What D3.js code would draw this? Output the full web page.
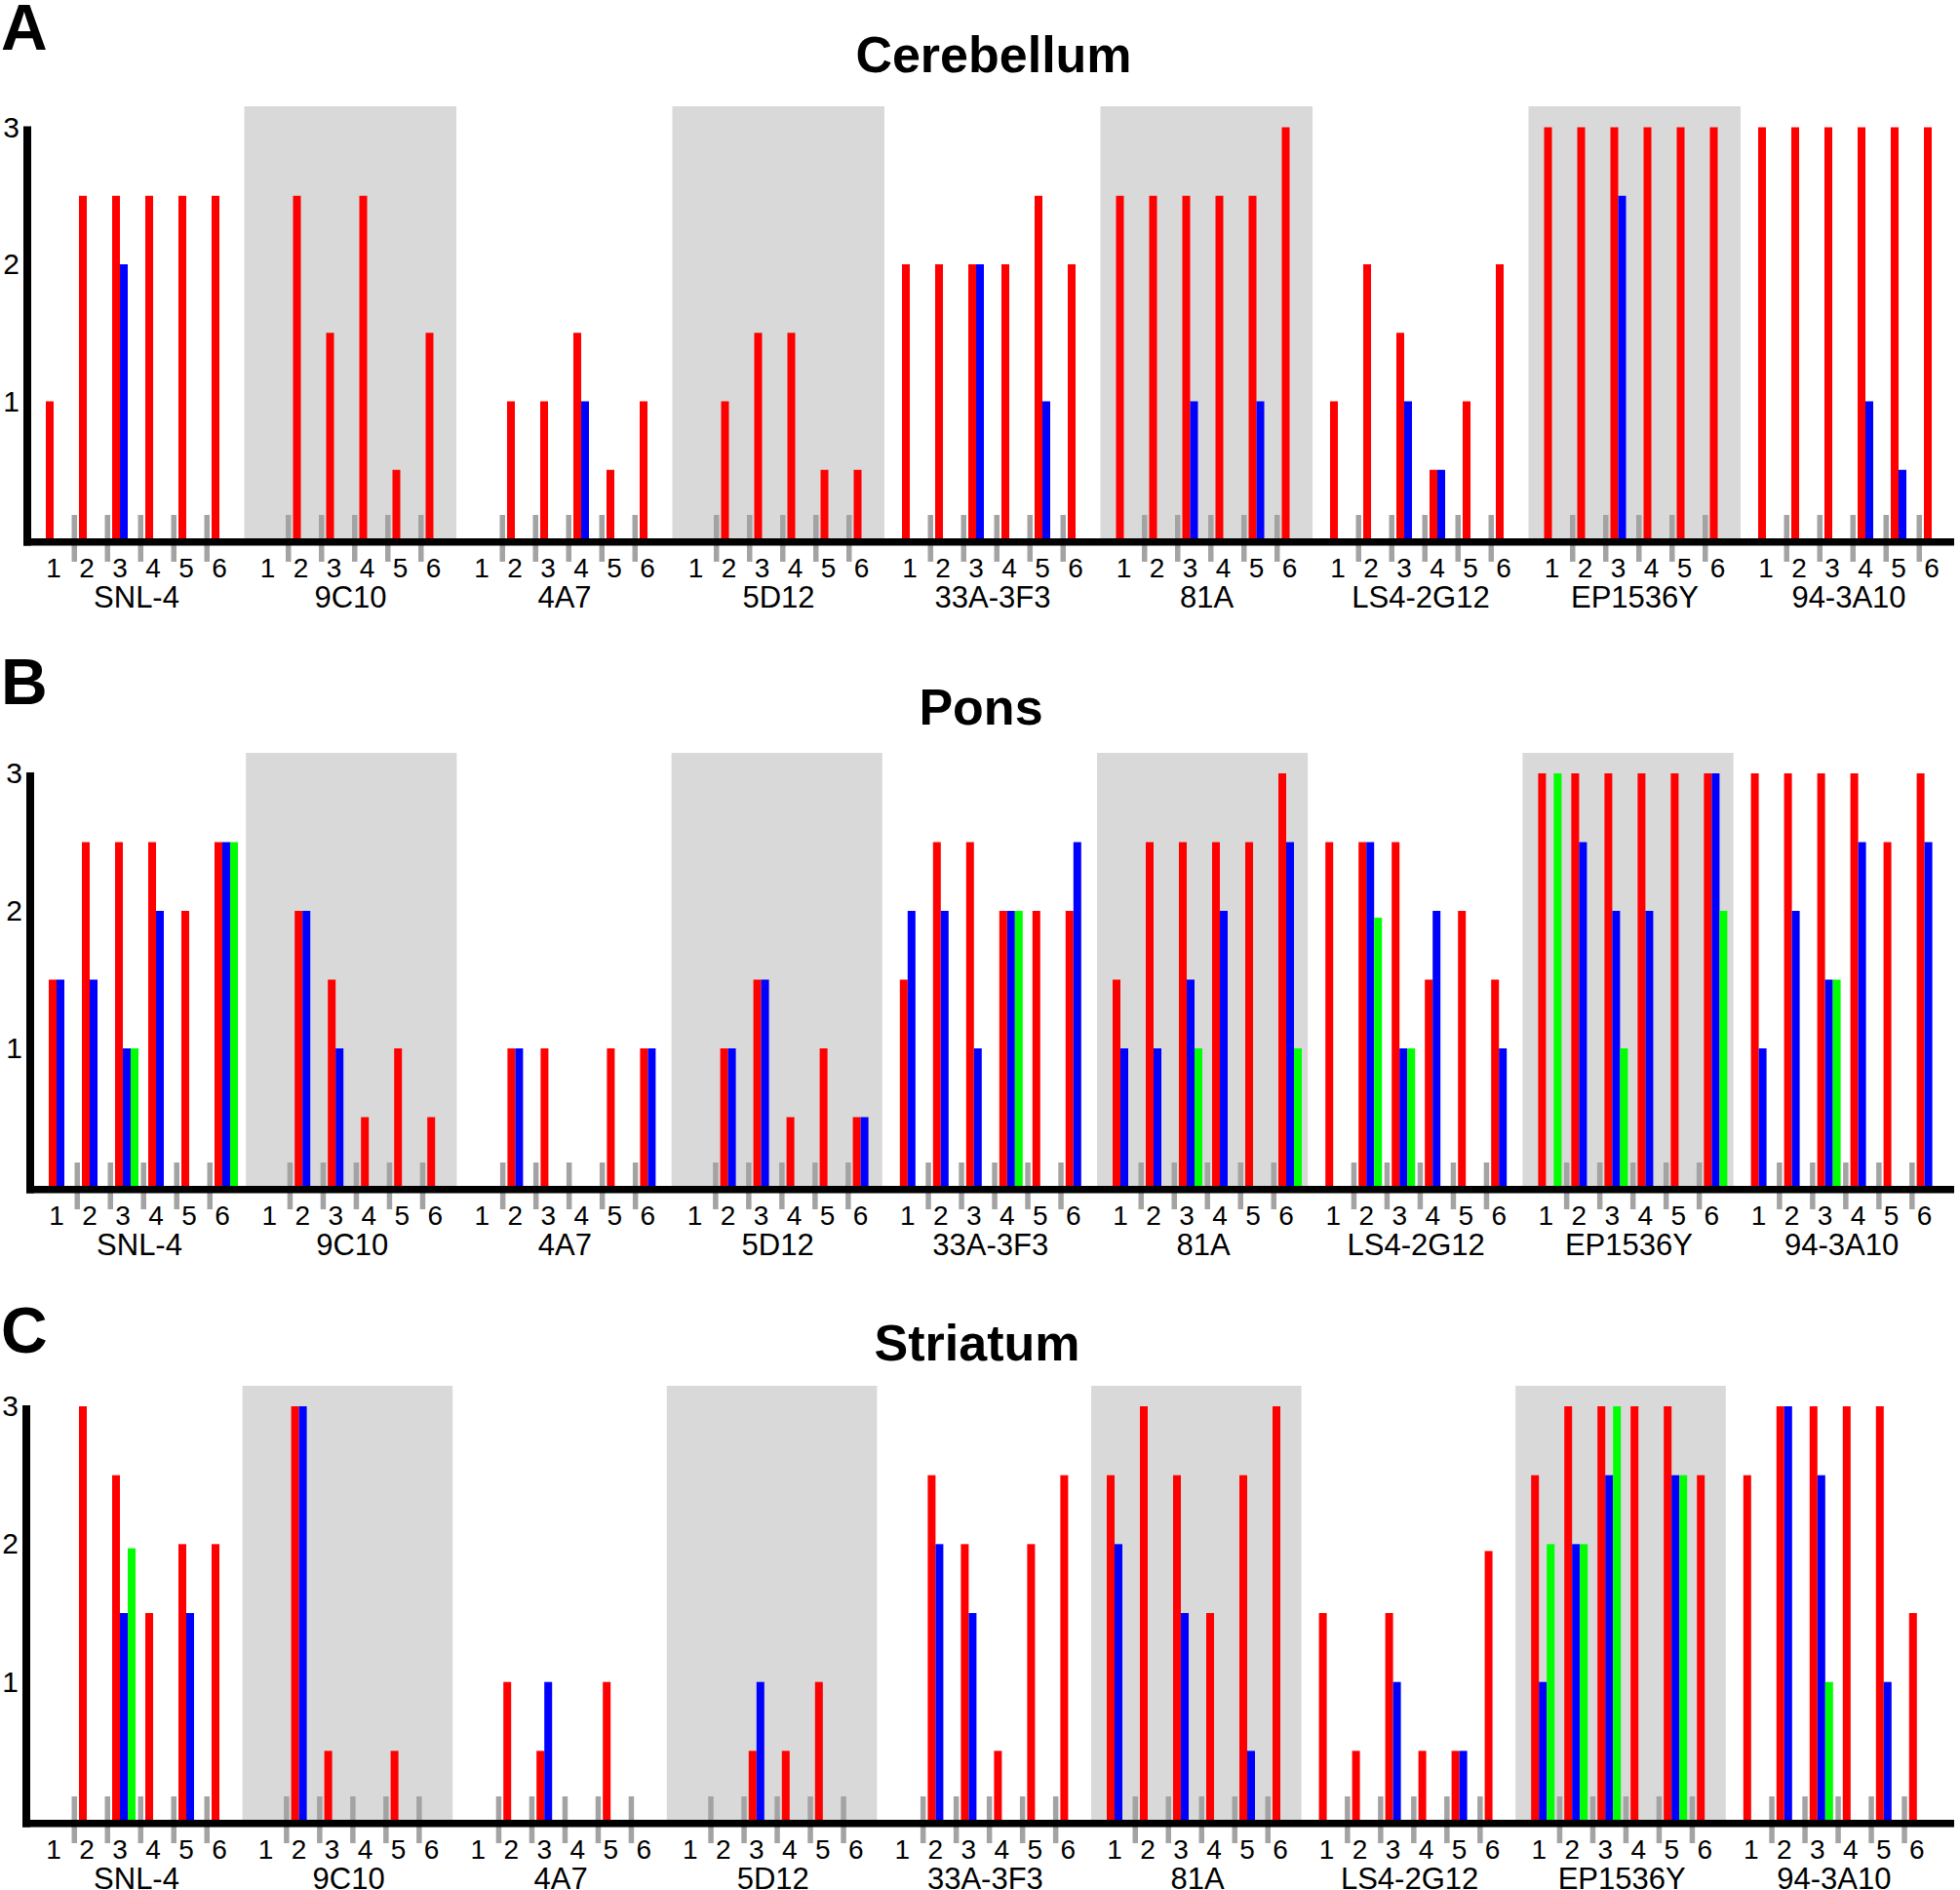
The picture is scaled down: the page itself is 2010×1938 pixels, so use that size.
<!DOCTYPE html>
<html>
<head>
<meta charset="utf-8">
<script src="https://cdn.jsdelivr.net/npm/d3@7"></script>
<style>
  html, body { margin: 0; padding: 0; background: #fff; }
  svg { display: block; }
  text { font-family: "Liberation Sans", Arial, Helvetica, sans-serif; fill: #000; }
</style>
</head>
<body>
<svg id="chart" width="2010" height="1938"></svg>
<script>
// ---------------- DATA ----------------
const groups = ["SNL-4", "9C10", "4A7", "5D12", "33A-3F3", "81A", "LS4-2G12", "EP1536Y", "94-3A10"];
const samples = ["1", "2", "3", "4", "5", "6"];
const series = ["red", "blue", "green"];
const yTicks = [1, 2, 3];
const shadedGroups = ["9C10", "5D12", "81A", "EP1536Y"];

// Cerebellum (panel A): one row per group, one value per sample
const cerebellumRed = [
  [1, 2.5, 2.5, 2.5, 2.5, 2.5],
  [0, 2.5, 1.5, 2.5, 0.5, 1.5],
  [0, 1, 1, 1.5, 0.5, 1],
  [0, 1, 1.5, 1.5, 0.5, 0.5],
  [2, 2, 2, 2, 2.5, 2],
  [2.5, 2.5, 2.5, 2.5, 2.5, 3],
  [1, 2, 1.5, 0.5, 1, 2],
  [3, 3, 3, 3, 3, 3],
  [3, 3, 3, 3, 3, 3]
];
const cerebellumBlue = [
  [0, 0, 2, 0, 0, 0],
  [0, 0, 0, 0, 0, 0],
  [0, 0, 0, 1, 0, 0],
  [0, 0, 0, 0, 0, 0],
  [0, 0, 2, 0, 1, 0],
  [0, 0, 1, 0, 1, 0],
  [0, 0, 1, 0.5, 0, 0],
  [0, 0, 2.5, 0, 0, 0],
  [0, 0, 0, 1, 0.5, 0]
];
const cerebellumGreen = [
  [0, 0, 0, 0, 0, 0],
  [0, 0, 0, 0, 0, 0],
  [0, 0, 0, 0, 0, 0],
  [0, 0, 0, 0, 0, 0],
  [0, 0, 0, 0, 0, 0],
  [0, 0, 0, 0, 0, 0],
  [0, 0, 0, 0, 0, 0],
  [0, 0, 0, 0, 0, 0],
  [0, 0, 0, 0, 0, 0]
];

// Pons (panel B)
const ponsRed = [
  [1.5, 2.5, 2.5, 2.5, 2, 2.5],
  [0, 2, 1.5, 0.5, 1, 0.5],
  [0, 1, 1, 0, 1, 1],
  [0, 1, 1.5, 0.5, 1, 0.5],
  [1.5, 2.5, 2.5, 2, 2, 2],
  [1.5, 2.5, 2.5, 2.5, 2.5, 3],
  [2.5, 2.5, 2.5, 1.5, 2, 1.5],
  [3, 3, 3, 3, 3, 3],
  [3, 3, 3, 3, 2.5, 3]
];
const ponsBlue = [
  [1.5, 1.5, 1, 2, 0, 2.5],
  [0, 2, 1, 0, 0, 0],
  [0, 1, 0, 0, 0, 1],
  [0, 1, 1.5, 0, 0, 0.5],
  [2, 2, 1, 2, 0, 2.5],
  [1, 1, 1.5, 2, 0, 2.5],
  [0, 2.5, 1, 2, 0, 1],
  [0, 2.5, 2, 2, 0, 3],
  [1, 2, 1.5, 2.5, 0, 2.5]
];
const ponsGreen = [
  [0, 0, 1, 0, 0, 2.5],
  [0, 0, 0, 0, 0, 0],
  [0, 0, 0, 0, 0, 0],
  [0, 0, 0, 0, 0, 0],
  [0, 0, 0, 2, 0, 0],
  [0, 0, 1, 0, 0, 1],
  [0, 1.95, 1, 0, 0, 0],
  [3, 0, 1, 0, 0, 2],
  [0, 0, 1.5, 0, 0, 0]
];

// Striatum (panel C)
const striatumRed = [
  [0, 3, 2.5, 1.5, 2, 2],
  [0, 3, 0.5, 0, 0.5, 0],
  [0, 1, 0.5, 0, 1, 0],
  [0, 0, 0.5, 0.5, 1, 0],
  [0, 2.5, 2, 0.5, 2, 2.5],
  [2.5, 3, 2.5, 1.5, 2.5, 3],
  [1.5, 0.5, 1.5, 0.5, 0.5, 1.95],
  [2.5, 3, 3, 3, 3, 2.5],
  [2.5, 3, 3, 3, 3, 1.5]
];
const striatumBlue = [
  [0, 0, 1.5, 0, 1.5, 0],
  [0, 3, 0, 0, 0, 0],
  [0, 0, 1, 0, 0, 0],
  [0, 0, 1, 0, 0, 0],
  [0, 2, 1.5, 0, 0, 0],
  [2, 0, 1.5, 0, 0.5, 0],
  [0, 0, 1, 0, 0.5, 0],
  [1, 2, 2.5, 0, 2.5, 0],
  [0, 3, 2.5, 0, 1, 0]
];
const striatumGreen = [
  [0, 0, 1.97, 0, 0, 0],
  [0, 0, 0, 0, 0, 0],
  [0, 0, 0, 0, 0, 0],
  [0, 0, 0, 0, 0, 0],
  [0, 0, 0, 0, 0, 0],
  [0, 0, 0, 0, 0, 0],
  [0, 0, 0, 0, 0, 0],
  [2, 2, 3, 0, 2.5, 0],
  [0, 0, 1, 0, 0, 0]
];

const panelTitles = ["Cerebellum", "Pons", "Striatum"];
const panelLetters = ["A", "B", "C"];

// ---------------- LAYOUT ----------------
const colors = { red: "#ff0000", blue: "#0000ff", green: "#00ff00" };
const panels = [
  { title: panelTitles[0], letter: panelLetters[0], red: cerebellumRed, blue: cerebellumBlue, green: cerebellumGreen,
    y0: 552, y3: 130.5, bgTop: 109, bandStart: 30, bandW: 219.5, axisX: 28, titleX: 1019, titleY: 74, letterY: 51 },
  { title: panelTitles[1], letter: panelLetters[1], red: ponsRed, blue: ponsBlue, green: ponsGreen,
    y0: 1216, y3: 793, bgTop: 772, bandStart: 33, bandW: 218.2, axisX: 31, titleX: 1006, titleY: 743, letterY: 722 },
  { title: panelTitles[2], letter: panelLetters[2], red: striatumRed, blue: striatumBlue, green: striatumGreen,
    y0: 1866, y3: 1442, bgTop: 1421, bandStart: 30, bandW: 217.6, axisX: 27, titleX: 1002, titleY: 1395, letterY: 1387 }
];

const svg = d3.select("#chart");
const xEnd = 2004;
const samplePitch = 34;
const sampleOffset = 17;
const barW = 8;

panels.forEach(p => {
  const g = svg.append("g");
  const x = d3.scaleBand().domain(groups).range([p.bandStart, p.bandStart + p.bandW * groups.length]).padding(0);
  const xs = d3.scaleBand().domain(samples).range([sampleOffset, sampleOffset + samplePitch * samples.length]).padding(0);
  const xc = d3.scaleBand().domain(series).range([0, barW * series.length]).padding(0);
  const y = d3.scaleLinear().domain([0, 3]).range([p.y0, p.y3]);

  // shaded backgrounds
  g.selectAll("rect.bg").data(shadedGroups).join("rect")
    .attr("class", "bg")
    .attr("x", d => x(d) + 1)
    .attr("y", p.bgTop)
    .attr("width", x.bandwidth() - 2)
    .attr("height", p.y0 - p.bgTop)
    .attr("fill", "#d9d9d9");

  // bars
  const barData = [];
  groups.forEach((grp, gi) => {
    samples.forEach((s, si) => {
      series.forEach(ser => {
        const v = p[ser][gi][si];
        if (v > 0) barData.push({ grp, s, ser, v });
      });
    });
  });
  g.selectAll("rect.bar").data(barData).join("rect")
    .attr("class", "bar")
    .attr("x", d => x(d.grp) + xs(d.s) + xc(d.ser))
    .attr("y", d => y(d.v))
    .attr("width", xc.bandwidth())
    .attr("height", d => y(0) - y(d.v))
    .attr("fill", d => colors[d.ser]);

  // gray separator ticks between samples
  const sepData = [];
  groups.forEach(grp => samples.slice(0, -1).forEach(s => sepData.push({ grp, s })));
  g.selectAll("rect.sep").data(sepData).join("rect")
    .attr("class", "sep")
    .attr("x", d => x(d.grp) + xs(d.s) + 26.5)
    .attr("y", p.y0 - 24)
    .attr("width", 5.5)
    .attr("height", 48)
    .attr("fill", "#a3a3a3");

  // axes lines
  g.append("rect").attr("x", p.axisX - 4).attr("y", p.y0).attr("width", xEnd - p.axisX + 4).attr("height", 7.5).attr("fill", "#000");
  g.append("rect").attr("x", p.axisX - 4).attr("y", p.y3 - 1).attr("width", 8).attr("height", p.y0 - p.y3 + 8.5).attr("fill", "#000");

  // y tick labels via d3 axis
  const yAxis = d3.axisLeft(y).tickValues(yTicks).tickSize(0).tickPadding(0).tickFormat(d3.format("d"));
  const ya = g.append("g").attr("transform", `translate(${p.axisX - 8},0)`).call(yAxis);
  ya.select(".domain").remove();
  ya.selectAll("text").attr("font-size", 30).attr("font-family", "Liberation Sans, Arial, sans-serif").attr("fill", "#000");

  // sample labels
  const labData = [];
  groups.forEach(grp => samples.forEach(s => labData.push({ grp, s })));
  g.selectAll("text.samp").data(labData).join("text")
    .attr("class", "samp")
    .attr("x", d => x(d.grp) + xs(d.s) + 8)
    .attr("y", p.y0 + 40)
    .attr("text-anchor", "middle")
    .attr("font-size", 28)
    .text(d => d.s);

  // group labels
  g.selectAll("text.grp").data(groups).join("text")
    .attr("class", "grp")
    .attr("x", d => x(d) + xs(samples[0]) + 8 + (xs(samples[5]) - xs(samples[0])) / 2)
    .attr("y", p.y0 + 71)
    .attr("text-anchor", "middle")
    .attr("font-size", 31)
    .text(d => d);

  // title & letter
  g.append("text").attr("x", p.titleX).attr("y", p.titleY).attr("text-anchor", "middle")
    .attr("font-size", 52).attr("font-weight", "bold").text(p.title);
  g.append("text").attr("x", 1).attr("y", p.letterY).attr("font-size", 66).attr("font-weight", "bold").text(p.letter);
});
</script>
</body>
</html>
